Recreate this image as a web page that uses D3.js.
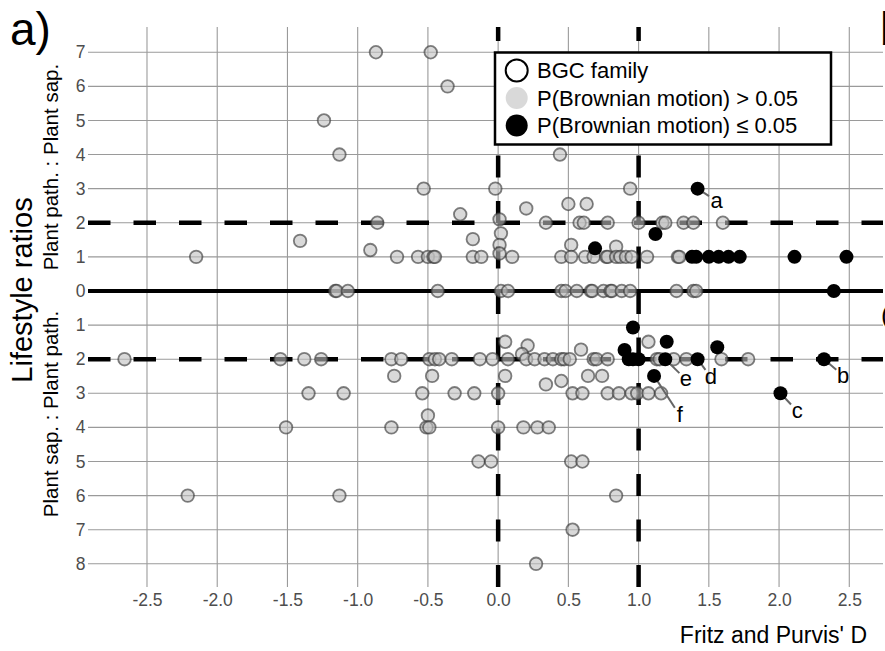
<!DOCTYPE html>
<html>
<head>
<meta charset="utf-8">
<script src="https://cdn.jsdelivr.net/npm/d3@7"></script>
<style>
  body { margin: 0; background: #fff; }
  svg { display: block; font-family: "Liberation Sans", Arial, Helvetica, sans-serif; }
</style>
</head>
<body>
<div id="viz"></div>
<script>
'use strict';

// ratio > 0 : Plant path. : Plant sap., ratio < 0 : Plant sap. : Plant path.
// P(Brownian motion) > 0.05
const greyD = [
  -0.87, -0.48,                                   // 7
  -0.36,                                          // 6
  -1.24,                                          // 5
  -1.13, 0.44,                                    // 4
  -0.53, -0.02, 0.94,                             // 3
  -0.27, 0.20, 0.50, 0.63, 0.01,                  // 2 - 3
  -0.86, 0.34, 0.58, 0.61, 0.78, 1.00, 1.17, 1.19, 1.32, 1.39, 1.60,  // 2
  0.02, -0.18, -1.41, 0.01, 0.52, 0.84, -0.91, 0.01,                 // 1 - 2
  -2.15, -0.72, -0.57, -0.50, -0.46, -0.45, -0.18, -0.12, 0.10, 0.45, 0.52,
  0.62, 0.68, 0.77, 0.78, 0.84, 0.87, 0.91, 0.95, 1.06, 1.28, 1.29,  // 1
  -1.16, -1.15, -1.07, -0.43, 0.02, 0.07, 0.45, 0.48, 0.56, 0.66,
  0.67, 0.75, 0.80, 0.81, 0.88, 0.94, 1.27, 1.39, 1.41,              // 0
  0.05, 1.07, 0.21, 0.59, 0.17,                                      // -1 .. -2
  -2.66, -1.55, -1.38, -1.26, -0.76, -0.69, -0.49, -0.45, -0.42, -0.33,
  -0.13, -0.04, 0.07, 0.20, 0.26, 0.33, 0.39, 0.45, 0.47, 0.51,
  0.68, 0.70, 0.78, 1.13, 1.15, 1.25, 1.34, 1.59, 1.78,              // -2
  -0.74, -0.47, 0.05, 0.64, 0.74, 0.45, 0.34,                        // -2 .. -3
  -1.35, -1.10, -0.54, -0.31, -0.17, 0.00, 0.53, 0.60, 0.78, 0.86,
  0.95, 0.99, 1.07, 1.16,                                            // -3
  -0.50,                                                             // -3.65
  -1.51, -0.76, -0.51, -0.49, 0.00, 0.18, 0.28, 0.36,                // -4
  -0.14, -0.05, 0.52, 0.60,                                          // -5
  -2.21, -1.13, 0.84,                                                // -6
  0.53,                                                              // -7
  0.27                                                               // -8
];
const greyRatio = [
  7, 7,
  6,
  5,
  4, 4,
  3, 3, 3,
  2.25, 2.42, 2.55, 2.55, 2.1,
  2, 2, 2, 2, 2, 2, 2, 2, 2, 2, 2,
  1.69, 1.52, 1.47, 1.35, 1.35, 1.3, 1.2, 1.1,
  1, 1, 1, 1, 1, 1, 1, 1, 1, 1, 1,
  1, 1, 1, 1, 1, 1, 1, 1, 1, 1, 1,
  0, 0, 0, 0, 0, 0, 0, 0, 0, 0,
  0, 0, 0, 0, 0, 0, 0, 0, 0,
  -1.49, -1.49, -1.6, -1.72, -1.85,
  -2, -2, -2, -2, -2, -2, -2, -2, -2, -2,
  -2, -2, -2, -2, -2, -2, -2, -2, -2, -2,
  -2, -2, -2, -2, -2, -2, -2, -2, -2,
  -2.49, -2.49, -2.49, -2.49, -2.49, -2.64, -2.74,
  -3, -3, -3, -3, -3, -3, -3, -3, -3, -3,
  -3, -3, -3, -3,
  -3.65,
  -4, -4, -4, -4, -4, -4, -4, -4,
  -5, -5, -5, -5,
  -6, -6, -6,
  -7,
  -8
];

// P(Brownian motion) <= 0.05
const sigD =     [1.42, 1.12, 0.69, 1.38, 1.41, 1.50, 1.57, 1.64, 1.72, 2.11, 2.48, 2.39,
                  0.96, 1.20, 1.56, 0.90, 0.93, 0.96, 1.00, 1.19, 1.42, 2.32, 1.11, 2.01];
const sigRatio = [3, 1.67, 1.25, 1, 1, 1, 1, 1, 1, 1, 1, 0,
                  -1.07, -1.49, -1.65, -1.73, -2, -2, -2, -2, -2, -2, -2.49, -3];
const sigLabel = ['a', '', '', '', '', '', '', '', '', '', '', '',
                  '', '', '', '', '', '', '', 'e', 'd', 'b', 'f', 'c'];

// label text positions (baseline), in data units
const labelNames = ['a', 'b', 'c', 'd', 'e', 'f'];
const labelD =     [1.555, 2.456, 2.129, 1.514, 1.336, 1.293];
const labelRatio = [2.43, -2.685, -3.728, -2.731, -2.80, -3.85];

const xTicks = [-2.5, -2.0, -1.5, -1.0, -0.5, 0.0, 0.5, 1.0, 1.5, 2.0, 2.5];
const yTicks = [-8, -7, -6, -5, -4, -3, -2, -1, 0, 1, 2, 3, 4, 5, 6, 7];
const ratioCuts = [2, -2];   // dashed horizontal
const dCuts = [0, 1];        // dashed vertical

const legendLabels = ['BGC family', 'P(Brownian motion) > 0.05', 'P(Brownian motion) \u2264 0.05'];

const W = 885, H = 651;
const plot = {left: 88, right: 883, top: 27, bottom: 587};

const svg = d3.select('#viz')
  .append('svg')
    .attr('width', W)
    .attr('height', H);

const x = d3.scaleLinear()
  .domain([-2.92, 2.74])
  .range([plot.left, plot.right]);

const y = d3.scaleLinear()
  .domain([-8.68, 7.74])
  .range([plot.bottom, plot.top]);

// grid
svg.append('g')
  .selectAll('line')
  .data(xTicks)
  .join('line')
    .attr('x1', d => x(d)).attr('x2', d => x(d))
    .attr('y1', plot.top).attr('y2', plot.bottom)
    .attr('stroke', '#9a9a9a')
    .attr('stroke-width', 1.1);

svg.append('g')
  .selectAll('line')
  .data(yTicks)
  .join('line')
    .attr('x1', plot.left).attr('x2', plot.right)
    .attr('y1', d => y(d)).attr('y2', d => y(d))
    .attr('stroke', '#9a9a9a')
    .attr('stroke-width', 1.1);

// axes (labels only)
const xAxis = svg.append('g')
  .attr('transform', `translate(0,${plot.bottom})`)
  .call(d3.axisBottom(x).tickValues(xTicks).tickSize(0).tickPadding(7)
    .tickFormat(d => d.toFixed(1)));

const yAxis = svg.append('g')
  .attr('transform', `translate(${plot.left},0)`)
  .call(d3.axisLeft(y).tickValues(yTicks).tickSize(0).tickPadding(2.5)
    .tickFormat(d => Math.abs(d)));

for (const ax of [xAxis, yAxis]) {
  ax.select('.domain').remove();
  ax.selectAll('text')
    .attr('fill', '#4d4d4d')
    .style('font-size', '17.5px')
    .style('font-family', '"Liberation Sans", Arial, sans-serif');
}

// reference lines
svg.append('line')
  .attr('x1', plot.left).attr('x2', plot.right)
  .attr('y1', y(0)).attr('y2', y(0))
  .attr('stroke', '#000')
  .attr('stroke-width', 4);

svg.append('g')
  .selectAll('line')
  .data(ratioCuts)
  .join('line')
    .attr('x1', plot.left).attr('x2', plot.right)
    .attr('y1', d => y(d)).attr('y2', d => y(d))
    .attr('stroke', '#000')
    .attr('stroke-width', 4.5)
    .attr('stroke-dasharray', '22.5,23');

svg.append('g')
  .selectAll('line')
  .data(dCuts)
  .join('line')
    .attr('x1', d => x(d)).attr('x2', d => x(d))
    .attr('y1', plot.bottom).attr('y2', plot.top)
    .attr('stroke', '#000')
    .attr('stroke-width', 4.5)
    .attr('stroke-dasharray', '22,23.5');

// grey points
svg.append('g')
  .selectAll('circle')
  .data(greyD.map((d, i) => ({d, r: greyRatio[i]})))
  .join('circle')
    .attr('cx', p => x(p.d))
    .attr('cy', p => y(p.r))
    .attr('r', 6.3)
    .attr('fill', 'rgba(191,191,191,0.6)')
    .attr('stroke', 'rgba(51,51,51,0.62)')
    .attr('stroke-width', 1.8);

// leader lines for labelled points
const labels = labelNames.map((name, i) => {
  const k = sigLabel.indexOf(name);
  const px = x(sigD[k]), py = y(sigRatio[k]);
  const tx = x(labelD[i]), ty = y(labelRatio[i]) - 7;
  const len = Math.hypot(tx - px, ty - py);
  return {
    name, px, py,
    ex: tx - (tx - px) / len * 9,
    ey: ty - (ty - py) / len * 9,
    lx: x(labelD[i]), ly: y(labelRatio[i])
  };
});

svg.append('g')
  .selectAll('line')
  .data(labels)
  .join('line')
    .attr('x1', l => l.px).attr('y1', l => l.py)
    .attr('x2', l => l.ex).attr('y2', l => l.ey)
    .attr('stroke', '#666')
    .attr('stroke-width', 2);

// significant points
svg.append('g')
  .selectAll('circle')
  .data(sigD.map((d, i) => ({d, r: sigRatio[i]})))
  .join('circle')
    .attr('cx', p => x(p.d))
    .attr('cy', p => y(p.r))
    .attr('r', 7)
    .attr('fill', '#000');

svg.append('g')
  .selectAll('text')
  .data(labels)
  .join('text')
    .attr('x', l => l.lx)
    .attr('y', l => l.ly)
    .attr('text-anchor', 'middle')
    .style('font-size', '22px')
    .text(l => l.name);

// legend
const legend = svg.append('g')
  .attr('transform', 'translate(495,52.5)');

legend.append('rect')
  .attr('width', 336)
  .attr('height', 92)
  .attr('fill', '#fff')
  .attr('stroke', '#000')
  .attr('stroke-width', 2.5);

const legendFill = ['#fff', '#d9d9d9', '#000'];
const legendStroke = ['#000', 'none', 'none'];

const item = legend.selectAll('g.item')
  .data(legendLabels)
  .join('g')
    .attr('class', 'item')
    .attr('transform', (d, i) => `translate(0,${18 + i * 27.5})`);

item.append('circle')
  .attr('cx', 21.7)
  .attr('r', 11)
  .attr('fill', (d, i) => legendFill[i])
  .attr('stroke', (d, i) => legendStroke[i])
  .attr('stroke-width', 2);

item.append('text')
  .attr('x', 42)
  .attr('dy', '0.36em')
  .style('font-size', '22px')
  .text(d => d);

// axis titles
svg.append('text')
  .attr('x', 867)
  .attr('y', 643)
  .attr('text-anchor', 'end')
  .style('font-size', '23px')
  .text("Fritz and Purvis' D");

svg.append('text')
  .attr('transform', 'translate(32,290) rotate(-90)')
  .attr('text-anchor', 'middle')
  .style('font-size', '29px')
  .text('Lifestyle ratios');

svg.append('text')
  .attr('transform', 'translate(58,167) rotate(-90)')
  .attr('text-anchor', 'middle')
  .style('font-size', '20.5px')
  .text('Plant path. : Plant sap.');

svg.append('text')
  .attr('transform', 'translate(58,414) rotate(-90)')
  .attr('text-anchor', 'middle')
  .style('font-size', '20.5px')
  .text('Plant sap. : Plant path.');

// panel tags
svg.append('text')
  .attr('x', 10)
  .attr('y', 45)
  .style('font-size', '46px')
  .text('a)');

svg.append('text')
  .attr('x', 880)
  .attr('y', 45)
  .style('font-size', '46px')
  .text('b)');

svg.append('text')
  .attr('x', 881)
  .attr('y', 324)
  .style('font-size', '26px')
  .text('(');
</script>
</body>
</html>
